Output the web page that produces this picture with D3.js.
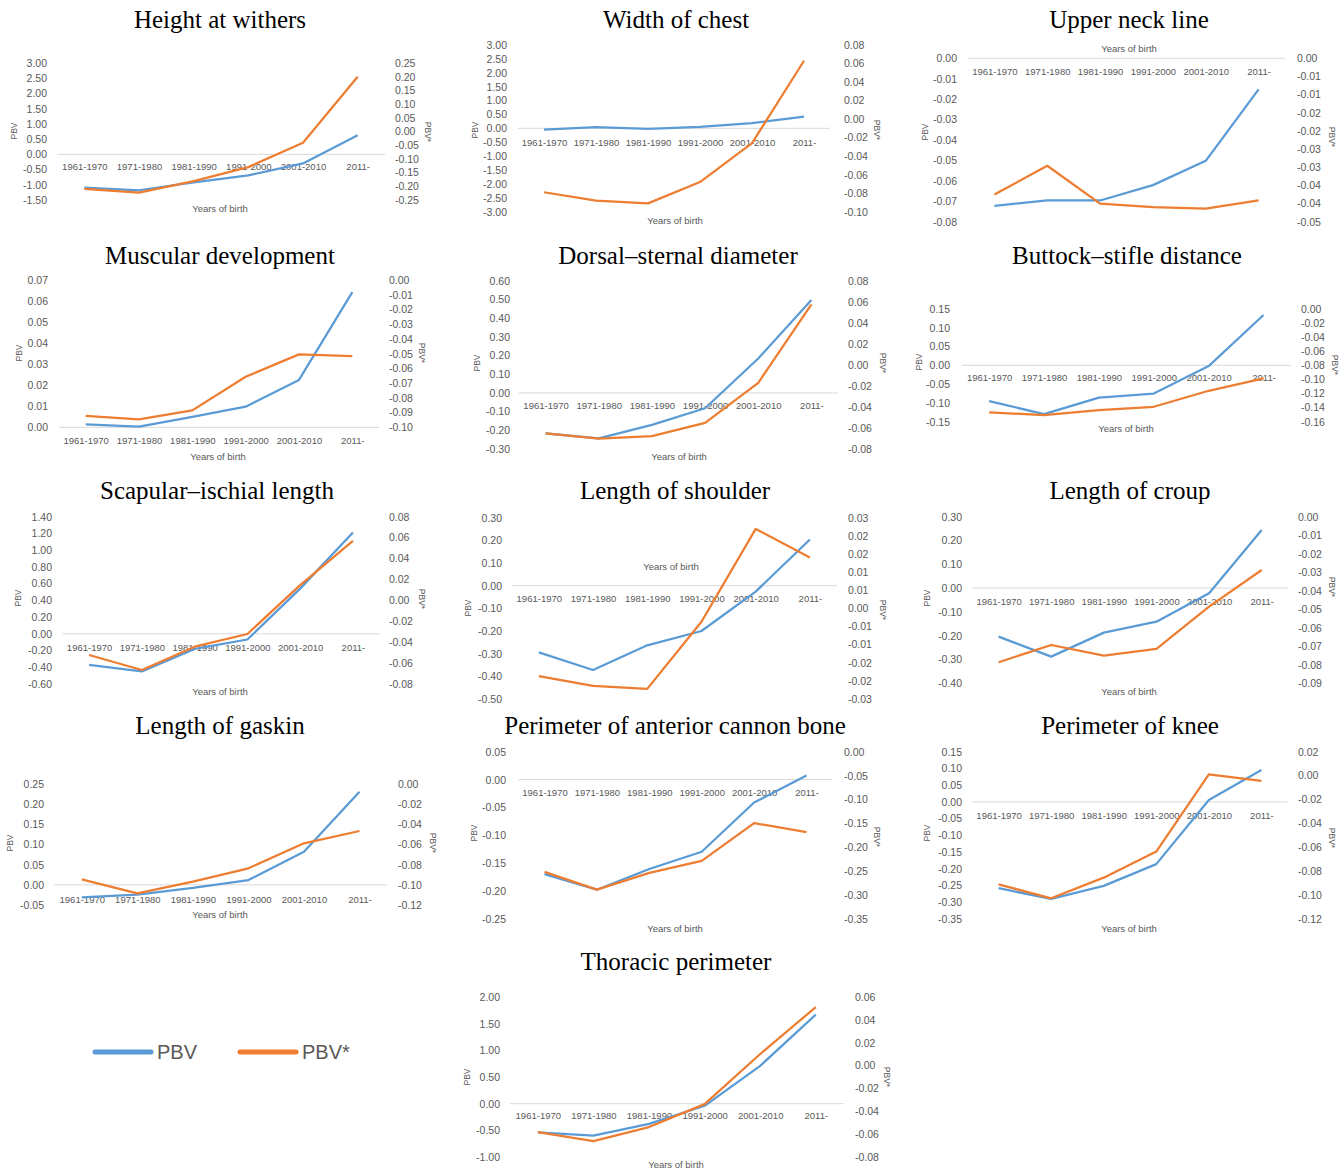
<!DOCTYPE html>
<html>
<head>
<meta charset="utf-8">
<script src="https://cdn.jsdelivr.net/npm/d3@7"></script>
<style>
  body { margin: 0; background: #fff; }
  svg { display: block; }
</style>
</head>
<body>
<svg id="chart" width="1343" height="1169"></svg>
<script>
var categories = ["1961-1970", "1971-1980", "1981-1990", "1991-2000", "2001-2010", "2011-"];

var titles = [
  "Height at withers", "Width of chest", "Upper neck line",
  "Muscular development", "Dorsal\u2013sternal diameter", "Buttock\u2013stifle distance",
  "Scapular\u2013ischial length", "Length of shoulder", "Length of croup",
  "Length of gaskin", "Perimeter of anterior cannon bone", "Perimeter of knee",
  "Thoracic perimeter"
];

// PBV (left axis)
var pbv = [
  [-1.09, -1.18, -0.92, -0.69, -0.30, 0.63],
  [-0.05, 0.04, -0.02, 0.05, 0.19, 0.42],
  [-0.0722, -0.0696, -0.0696, -0.0621, -0.0502, -0.0152],
  [0.0014, 0.0003, 0.0050, 0.0098, 0.0225, 0.0642],
  [-0.216, -0.243, -0.171, -0.082, 0.184, 0.497],
  [-0.095, -0.130, -0.086, -0.075, -0.002, 0.134],
  [-0.37, -0.45, -0.18, -0.068, 0.54, 1.21],
  [-0.294, -0.372, -0.263, -0.200, -0.026, 0.204],
  [-0.204, -0.288, -0.187, -0.141, -0.022, 0.244],
  [-0.031, -0.024, -0.0074, 0.0117, 0.082, 0.231],
  [-0.169, -0.197, -0.160, -0.129, -0.041, 0.0072],
  [-0.258, -0.290, -0.251, -0.186, 0.0057, 0.0953],
  [-0.54, -0.60, -0.38, -0.04, 0.71, 1.67]
];

// PBV* (right axis)
var pbvStar = [
  [-0.209, -0.223, -0.181, -0.130, -0.041, 0.200],
  [-0.079, -0.088, -0.091, -0.068, -0.026, 0.063],
  [-0.0375, -0.0296, -0.0400, -0.0410, -0.0414, -0.0391],
  [-0.0923, -0.0946, -0.0885, -0.0657, -0.0505, -0.0516],
  [-0.0651, -0.0702, -0.0677, -0.0551, -0.0171, 0.0575],
  [-0.1467, -0.1506, -0.1435, -0.1388, -0.1161, -0.0984],
  [-0.0523, -0.0666, -0.0443, -0.0322, 0.0146, 0.0569],
  [-0.0187, -0.0214, -0.0222, -0.0037, 0.0219, 0.0140],
  [-0.0786, -0.0693, -0.0750, -0.0714, -0.0486, -0.0288],
  [-0.0945, -0.1084, -0.0969, -0.0836, -0.0588, -0.0466],
  [-0.251, -0.288, -0.253, -0.228, -0.149, -0.168],
  [-0.0910, -0.1027, -0.0854, -0.0636, 0.0011, -0.0045],
  [-0.0582, -0.0661, -0.0538, -0.0337, 0.0101, 0.0512]
];

var leftTicks = [
  [3, 2.5, 2, 1.5, 1, 0.5, 0, -0.5, -1, -1.5],
  [3, 2.5, 2, 1.5, 1, 0.5, 0, -0.5, -1, -1.5, -2, -2.5, -3],
  [0, -0.01, -0.02, -0.03, -0.04, -0.05, -0.06, -0.07, -0.08],
  [0.07, 0.06, 0.05, 0.04, 0.03, 0.02, 0.01, 0],
  [0.6, 0.5, 0.4, 0.3, 0.2, 0.1, 0, -0.1, -0.2, -0.3],
  [0.15, 0.1, 0.05, 0, -0.05, -0.1, -0.15],
  [1.4, 1.2, 1, 0.8, 0.6, 0.4, 0.2, 0, -0.2, -0.4, -0.6],
  [0.3, 0.2, 0.1, 0, -0.1, -0.2, -0.3, -0.4, -0.5],
  [0.3, 0.2, 0.1, 0, -0.1, -0.2, -0.3, -0.4],
  [0.25, 0.2, 0.15, 0.1, 0.05, 0, -0.05],
  [0.05, 0, -0.05, -0.1, -0.15, -0.2, -0.25],
  [0.15, 0.1, 0.05, 0, -0.05, -0.1, -0.15, -0.2, -0.25, -0.3, -0.35],
  [2, 1.5, 1, 0.5, 0, -0.5, -1]
];

var rightTicks = [
  [0.25, 0.2, 0.15, 0.1, 0.05, 0, -0.05, -0.1, -0.15, -0.2, -0.25],
  [0.08, 0.06, 0.04, 0.02, 0, -0.02, -0.04, -0.06, -0.08, -0.1],
  [0, -0.005, -0.01, -0.015, -0.02, -0.025, -0.03, -0.035, -0.04, -0.045],
  [0, -0.01, -0.02, -0.03, -0.04, -0.05, -0.06, -0.07, -0.08, -0.09, -0.1],
  [0.08, 0.06, 0.04, 0.02, 0, -0.02, -0.04, -0.06, -0.08],
  [0, -0.02, -0.04, -0.06, -0.08, -0.1, -0.12, -0.14, -0.16],
  [0.08, 0.06, 0.04, 0.02, 0, -0.02, -0.04, -0.06, -0.08],
  [0.025, 0.02, 0.015, 0.01, 0.005, 0, -0.005, -0.01, -0.015, -0.02, -0.025],
  [0, -0.01, -0.02, -0.03, -0.04, -0.05, -0.06, -0.07, -0.08, -0.09],
  [0, -0.02, -0.04, -0.06, -0.08, -0.1, -0.12],
  [0, -0.05, -0.1, -0.15, -0.2, -0.25, -0.3, -0.35],
  [0.02, 0, -0.02, -0.04, -0.06, -0.08, -0.1, -0.12],
  [0.06, 0.04, 0.02, 0, -0.02, -0.04, -0.06, -0.08]
];

// where each small chart sits on the page
var layout = [
  {tx: 220, ty: 19, x0: 57, x1: 385, yT: 63, yB: 200, lx: 47, rx: 395, px: 14, py: 131, sx: 428, sy: 132, catY: 167, yobX: 220, yobY: 209},
  {tx: 676, ty: 19, x0: 518, x1: 830, yT: 45, yB: 211.7, lx: 507, rx: 844, px: 475, py: 130, sx: 877, sy: 130, catY: 143, yobX: 675, yobY: 221},
  {tx: 1129, ty: 19, x0: 968, x1: 1285, yT: 58.3, yB: 221.7, lx: 957, rx: 1297, px: 925, py: 132, sx: 1332, sy: 137, catY: 71.5, yobX: 1129, yobY: 48.3},
  {tx: 220, ty: 255, x0: 59, x1: 379, yT: 280, yB: 427.3, lx: 48, rx: 389, px: 19, py: 353, sx: 422, sy: 353, catY: 441, yobX: 218, yobY: 456.7},
  {tx: 678, ty: 255, x0: 519, x1: 838, yT: 280.7, yB: 449, lx: 510, rx: 848, px: 477, py: 363, sx: 883, sy: 363, catY: 405.7, yobX: 679, yobY: 456.7},
  {tx: 1127, ty: 255, x0: 961.7, x1: 1291, yT: 309, yB: 421.7, lx: 950, rx: 1301, px: 919, py: 362, sx: 1335, sy: 365, catY: 377.7, yobX: 1126, yobY: 428.3},
  {tx: 217, ty: 490, x0: 62.7, x1: 379.3, yT: 516.7, yB: 684, lx: 52, rx: 389, px: 18, py: 598, sx: 422, sy: 599, catY: 647.3, yobX: 220, yobY: 691.7},
  {tx: 675, ty: 490, x0: 511.7, x1: 837, yT: 517.7, yB: 699, lx: 502, rx: 848, px: 468, py: 608, sx: 883, sy: 610, catY: 599, yobX: 671, yobY: 566.7},
  {tx: 1130, ty: 490, x0: 972.3, x1: 1288, yT: 516.7, yB: 683.3, lx: 962, rx: 1298, px: 927, py: 598, sx: 1332, sy: 587, catY: 601.7, yobX: 1129, yobY: 691.7},
  {tx: 220, ty: 725, x0: 54, x1: 387.3, yT: 784, yB: 905, lx: 44, rx: 398, px: 10, py: 843, sx: 433, sy: 843, catY: 899.3, yobX: 220, yobY: 914.3},
  {tx: 675, ty: 725, x0: 518.3, x1: 832.7, yT: 751.7, yB: 919.3, lx: 506, rx: 844, px: 474, py: 833, sx: 877, sy: 837, catY: 792.7, yobX: 675, yobY: 928.3},
  {tx: 1130, ty: 725, x0: 972.3, x1: 1287.7, yT: 751.7, yB: 919, lx: 962, rx: 1298, px: 927, py: 833, sx: 1332, sy: 838, catY: 816, yobX: 1129, yobY: 928.3},
  {tx: 676, ty: 961, x0: 510, x1: 843.6, yT: 997, yB: 1157, lx: 500, rx: 855, px: 467, py: 1077, sx: 887, sy: 1077, catY: 1116, yobX: 676, yobY: 1165}
];

var blue = "#5B9BD5", orange = "#ED7D31", grey = "#595959";
var sans = "'Liberation Sans', Arial, sans-serif";

// Excel style 2 decimal label, halves rounded away from zero
function fmt(v) {
  var r = Math.sign(v) * Math.round(Math.abs(v) * 100 + 1e-7) / 100;
  return r.toFixed(2);
}

var svg = d3.select("#chart");
svg.append("rect").attr("width", 1343).attr("height", 1169).attr("fill", "#fff");

titles.forEach(function(title, i) {
  var L = layout[i];
  var lt = leftTicks[i], rt = rightTicks[i];

  var x = d3.scalePoint().domain(categories).range([L.x0, L.x1]).padding(0.5);
  var yL = d3.scaleLinear().domain([lt[0], lt[lt.length - 1]]).range([L.yT, L.yB]);
  var yR = d3.scaleLinear().domain([rt[0], rt[rt.length - 1]]).range([L.yT, L.yB]);

  var g = svg.append("g");

  g.append("text")
    .attr("x", L.tx).attr("y", L.ty).attr("dy", "0.34em")
    .attr("text-anchor", "middle")
    .style("font-family", "'Liberation Serif', 'Times New Roman', serif")
    .style("font-size", "25px")
    .attr("fill", "#000")
    .text(title);

  // zero line
  g.append("line")
    .attr("x1", L.x0).attr("x2", L.x1)
    .attr("y1", yL(0)).attr("y2", yL(0))
    .attr("stroke", "#D9D9D9").attr("stroke-width", 1);

  var ax = g.append("g").attr("transform", "translate(" + L.lx + ",0)")
    .call(d3.axisLeft(yL).tickValues(lt).tickFormat(fmt).tickSize(0).tickPadding(0));
  var axR = g.append("g").attr("transform", "translate(" + L.rx + ",0)")
    .call(d3.axisRight(yR).tickValues(rt).tickFormat(fmt).tickSize(0).tickPadding(0));
  var axB = g.append("g").attr("transform", "translate(0," + L.catY + ")")
    .call(d3.axisBottom(x).tickSize(0).tickPadding(0));

  [ax, axR].forEach(function(a) {
    a.select(".domain").remove();
    a.selectAll("text").style("font-family", sans).style("font-size", "10.5px").attr("fill", grey);
  });
  axB.select(".domain").remove();
  axB.selectAll("text").attr("dy", "0.35em")
    .style("font-family", sans).style("font-size", "9.5px").attr("fill", grey);

  g.append("text")
    .attr("x", L.yobX).attr("y", L.yobY).attr("dy", "0.35em")
    .attr("text-anchor", "middle")
    .style("font-family", sans).style("font-size", "9.5px").attr("fill", grey)
    .text("Years of birth");

  g.append("text")
    .attr("transform", "translate(" + L.px + "," + L.py + ") rotate(-90)")
    .attr("dy", "0.35em").attr("text-anchor", "middle")
    .style("font-family", sans).style("font-size", "8.5px").attr("fill", grey)
    .text("PBV");

  g.append("text")
    .attr("transform", "translate(" + L.sx + "," + L.sy + ") rotate(90)")
    .attr("dy", "0.35em").attr("text-anchor", "middle")
    .style("font-family", sans).style("font-size", "8.5px").attr("fill", grey)
    .text("PBV*");

  var lineL = d3.line().x(function(d, j) { return x(categories[j]); }).y(function(d) { return yL(d); });
  var lineR = d3.line().x(function(d, j) { return x(categories[j]); }).y(function(d) { return yR(d); });

  g.append("path").attr("d", lineL(pbv[i]))
    .attr("fill", "none").attr("stroke", blue).attr("stroke-width", 2.25)
    .attr("stroke-linejoin", "round");
  g.append("path").attr("d", lineR(pbvStar[i]))
    .attr("fill", "none").attr("stroke", orange).attr("stroke-width", 2.25)
    .attr("stroke-linejoin", "round");
});

// legend
var legendItems = [
  {name: "PBV", color: blue, x: 95},
  {name: "PBV*", color: orange, x: 240}
];
var leg = svg.append("g").attr("transform", "translate(0,1052)");
legendItems.forEach(function(d) {
  leg.append("line")
    .attr("x1", d.x).attr("x2", d.x + 56).attr("y1", 0).attr("y2", 0)
    .attr("stroke", d.color).attr("stroke-width", 5).attr("stroke-linecap", "round");
  leg.append("text")
    .attr("x", d.x + 62).attr("y", 0).attr("dy", "0.35em")
    .style("font-family", sans).style("font-size", "20px").attr("fill", grey)
    .text(d.name);
});
</script>
</body>
</html>
